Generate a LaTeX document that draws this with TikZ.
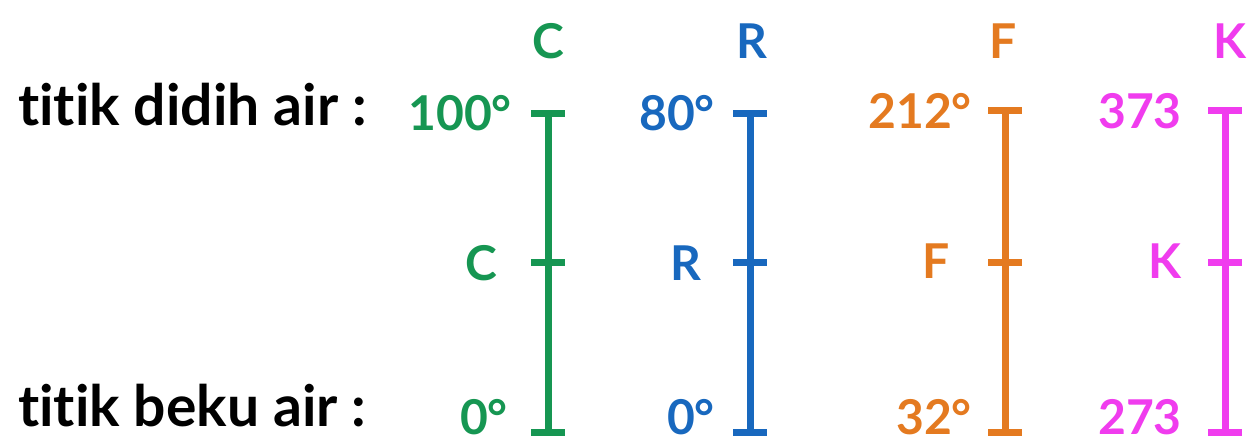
\documentclass[tikz,border=0pt]{standalone}
\usepackage{fontspec}
\setmainfont{Lato}[Ligatures=NoCommon]
\definecolor{celsius}{RGB}{22,150,82}
\definecolor{reaumur}{RGB}{24,104,190}
\definecolor{fahren}{RGB}{228,122,32}
\definecolor{kelvin}{RGB}{240,60,238}
\begin{document}
\begin{tikzpicture}[x=1pt,y=-1pt,
  lbl/.style={font=\fontsize{48}{48}\selectfont\bfseries, inner sep=0pt},
  rowtext/.style={lbl, font=\fontsize{57}{57}\selectfont\bfseries, anchor=base west, text=black},
  val/.style={lbl, anchor=base east},
  head/.style={lbl, anchor=base},
  bar/.style={line width=7pt, line cap=butt}]
\useasboundingbox[fill=white] (0,0) rectangle (1256,442);

% row captions
\node[rowtext] (didih) at (18,125) {titik didih air :};
\node[rowtext] (beku) at (18,426) {titik beku air :};

% bar with three ticks: #1 colour, #2 x, #3 name, #4 y of top tick
\newcommand{\scalebar}[4]{%
  \coordinate (#3top) at (#2,#4);
  \coordinate (#3mid) at (#2,262);
  \coordinate (#3bot) at (#2,432);
  \draw[bar, #1] (#3top) -- (#3bot);
  \draw[bar, #1] ([xshift=-17pt]#3top) -- ([xshift=17pt]#3top);
  \draw[bar, #1] ([xshift=-17pt]#3mid) -- ([xshift=17pt]#3mid);
  \draw[bar, #1] ([xshift=-17pt]#3bot) -- ([xshift=17pt]#3bot);
}

\scalebar{celsius}{548}{c}{113}
\scalebar{reaumur}{750}{r}{113}
\scalebar{fahren}{1005}{f}{110}
\scalebar{kelvin}{1225}{k}{110}

% Celsius
\node[head, text=celsius] (chead) at (548,58) {C};
\node[val, text=celsius] (chi) at (512,130) {100°};
\node[val, text=celsius] (cx) at (497,280) {C};
\node[val, text=celsius] (clo) at (508,434) {0°};
% Reaumur
\node[head, text=reaumur] (rhead) at (752,58) {R};
\node[val, text=reaumur] (rhi) at (715,130) {80°};
\node[val, text=reaumur] (rx) at (702,280) {R};
\node[val, text=reaumur] (rlo) at (715,434) {0°};
% Fahrenheit
\node[head, text=fahren] (fhead) at (1003,58) {F};
\node[val, text=fahren] (fhi) at (972,128) {212°};
\node[val, text=fahren] (fx) at (950,278) {F};
\node[val, text=fahren] (flo) at (972,434) {32°};
% Kelvin
\node[head, text=kelvin] (khead) at (1230,58) {K};
\node[val, text=kelvin] (khi) at (1182,128) {373};
\node[val, text=kelvin] (kx) at (1182,278) {K};
\node[val, text=kelvin] (klo) at (1182,434) {273};
\end{tikzpicture}
\end{document}
